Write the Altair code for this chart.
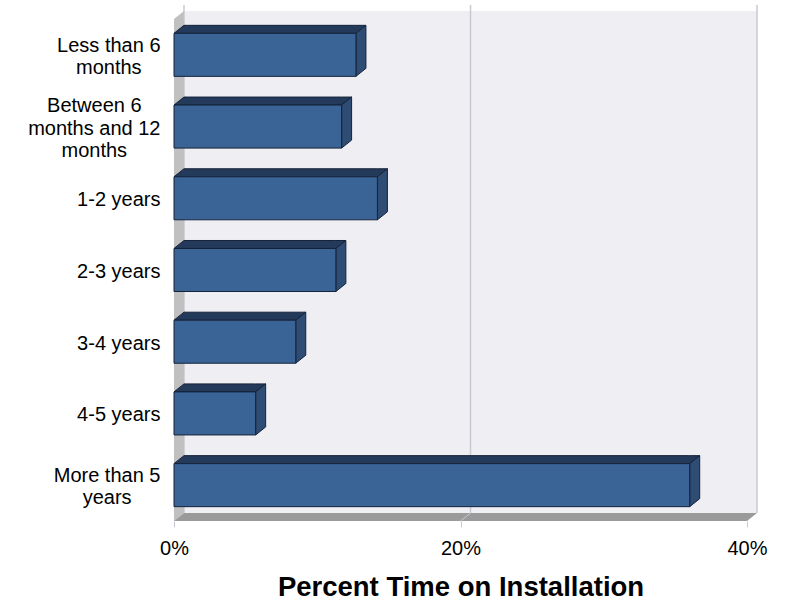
import altair as alt
import pandas as pd

# ---- data -------------------------------------------------------------
categories = [
    "Less than 6 months",
    "Between 6 months and 12 months",
    "1-2 years",
    "2-3 years",
    "3-4 years",
    "4-5 years",
    "More than 5 years",
]
label_lines = [
    ["Less than 6", "months"],
    ["Between 6", "months and 12", "months"],
    ["1-2 years"],
    ["2-3 years"],
    ["3-4 years"],
    ["4-5 years"],
    ["More than 5", "years"],
]
percent = [12.7, 11.7, 14.2, 11.3, 8.5, 5.7, 36.0]
x_ticks = [0, 20, 40]

# ---- layout -----------------------------------------------------------
PLOT_W, PLOT_H = 573, 502
X_MAX = 40
N = len(categories)
DEPTH_X_PX, DEPTH_Y_PX = 10, 8      # 3-D depth offset in pixels
BAR_FRAC = 0.6                        # bar thickness as share of a row
FONT = "Liberation Sans, Arial, sans-serif"
LABEL_SIZE = 20
LINE_H = 22.5

dx = DEPTH_X_PX * X_MAX / PLOT_W
dy = DEPTH_Y_PX * N / PLOT_H
grid_ext = 6 * N / PLOT_H

FRONT = "#3B6496"
TOP = "#243A5A"
SIDE = "#2E4C74"
EDGE = "#15223A"
WALL = "#EEEEF3"
LEFT_WALL = "#C0C0C0"
FLOOR = "#9A9A9A"
GRID = "#C9C9D3"

# ---- geometry tables built from the data ------------------------------
front_rows, top_rows, side_rows = [], [], []
for i, (cat, v) in enumerate(zip(categories, percent)):
    top = i + 0.5 - BAR_FRAC / 2
    bot = i + 0.5 + BAR_FRAC / 2
    front_rows.append(dict(cat=cat, x=0.0, x2=v, y=top, y2=bot))
    top_rows += [
        dict(cat=cat, x=0.0, y=top, y2=top),
        dict(cat=cat, x=dx, y=top - dy, y2=top),
        dict(cat=cat, x=v, y=top - dy, y2=top),
        dict(cat=cat, x=v + dx, y=top - dy, y2=top - dy),
    ]
    side_rows += [
        dict(cat=cat, x=v, y=bot, y2=top),
        dict(cat=cat, x=v + dx, y=bot - dy, y2=top - dy),
    ]
front_df = pd.DataFrame(front_rows)
top_df = pd.DataFrame(top_rows)
side_df = pd.DataFrame(side_rows)

wall_df = pd.DataFrame([dict(x=dx, x2=X_MAX + dx, y=-dy, y2=N - dy)])
left_df = pd.DataFrame([dict(x=0.0, y=0.0, y2=float(N)), dict(x=dx, y=-dy, y2=N - dy)])
floor_df = pd.DataFrame([
    dict(x=0.0, y=float(N), y2=float(N)),
    dict(x=dx, y=N - dy, y2=float(N)),
    dict(x=float(X_MAX), y=N - dy, y2=float(N)),
    dict(x=X_MAX + dx, y=N - dy, y2=N - dy),
])
grid_df = pd.DataFrame([dict(x=t + dx, y=-dy - grid_ext, y2=N - dy) for t in x_ticks])
diag_df = pd.DataFrame([dict(x=float(t), x2=t + dx, y=float(N), y2=N - dy) for t in x_ticks[1:-1]])

# ---- category labels: centred lines, block right-aligned -------------
ARIAL_W = {" ": 278, "-": 333, "B": 667, "L": 556, "M": 833, "a": 556, "d": 556,
           "e": 556, "h": 556, "m": 833, "n": 556, "o": 556, "r": 333, "s": 500,
           "t": 278, "w": 722, "y": 500}


def text_w(s):
    return sum(ARIAL_W.get(c, 556) for c in s) * LABEL_SIZE / 1000


pad_conditions = [
    {"test": f"floor(datum.value) == {i}",
     "value": round(14 + max(text_w(l) for l in lines) / 2, 1)}
    for i, lines in enumerate(label_lines)
]
offset_conditions = [
    {"test": f"floor(datum.value) == {i}",
     "value": 1.5 - (len(lines) - 1) * LINE_H / 2}
    for i, lines in enumerate(label_lines)
]
lines_literal = "[" + ",".join(
    "[" + ",".join("'" + l + "'" for l in lines) + "]" for lines in label_lines
) + "]"

x_scale = alt.Scale(domain=[0, X_MAX], nice=False, zero=False)
y_scale = alt.Scale(domain=[0, N], reverse=True, nice=False, zero=False)

x_axis = alt.Axis(
    values=x_ticks,
    labelExpr="datum.value + '%'",
    domain=False,
    grid=False,
    ticks=True,
    tickSize=6,
    tickColor=GRID,
    labelFont=FONT,
    labelFontSize=LABEL_SIZE,
    labelColor="black",
    labelPadding=11,
    labelFlush=False,
    title="Percent Time on Installation",
    titleFont=FONT,
    titleFontSize=27.5,
    titleFontWeight="bold",
    titleColor="black",
    titleBaseline="top",
    titleY=52,
)
y_axis = alt.Axis(
    values=[i + 0.5 for i in range(N)],
    labelExpr=lines_literal + "[floor(datum.value)]",
    domain=False,
    grid=False,
    ticks=False,
    labelFont=FONT,
    labelFontSize=LABEL_SIZE,
    labelColor="black",
    labelAlign="center",
    labelBaseline="middle",
    labelLineHeight=LINE_H,
    labelPadding={"condition": pad_conditions, "value": 14},
    labelOffset={"condition": offset_conditions, "value": 0},
    title=None,
)

X = lambda f="x": alt.X(f"{f}:Q", scale=x_scale, axis=x_axis)
Y = lambda f="y": alt.Y(f"{f}:Q", scale=y_scale, axis=y_axis)

wall = alt.Chart(wall_df).mark_rect(fill=WALL).encode(
    x=X(), x2="x2:Q", y=Y(), y2="y2:Q")
grid = alt.Chart(grid_df).mark_rule(color=GRID, strokeWidth=1.5).encode(
    x=X(), y=Y(), y2="y2:Q")
left_wall = alt.Chart(left_df).mark_area(fill=LEFT_WALL).encode(
    x=X(), y=Y(), y2="y2:Q")
floor = alt.Chart(floor_df).mark_area(fill=FLOOR).encode(
    x=X(), y=Y(), y2="y2:Q")
diag = alt.Chart(diag_df).mark_rule(color=GRID, strokeWidth=1).encode(
    x=X(), x2="x2:Q", y=Y(), y2="y2:Q")

# one top face and one side face per bar (each a closed parallelogram)
faces = []
for cat in categories:
    faces.append(
        alt.Chart(top_df).transform_filter(alt.datum.cat == cat)
        .mark_area(fill=TOP, stroke=EDGE, strokeWidth=1)
        .encode(x=X(), y=Y(), y2="y2:Q")
    )
    faces.append(
        alt.Chart(side_df).transform_filter(alt.datum.cat == cat)
        .mark_area(fill=SIDE, stroke=EDGE, strokeWidth=1)
        .encode(x=X(), y=Y(), y2="y2:Q")
    )

front_face = alt.Chart(front_df).mark_rect(
    fill=FRONT, stroke=EDGE, strokeWidth=1
).encode(x=X(), x2="x2:Q", y=Y(), y2="y2:Q")

chart = (
    alt.layer(wall, grid, left_wall, floor, diag, *faces, front_face)
    .properties(
        width=PLOT_W,
        height=PLOT_H,
        autosize=alt.AutoSizeParams(type="none"),
        padding={"left": 174, "top": 19, "right": 45, "bottom": 79},
        background="white",
    )
    .configure_view(stroke=None)
)

chart.save("out.html", embed_options={"renderer": "svg", "actions": False})
